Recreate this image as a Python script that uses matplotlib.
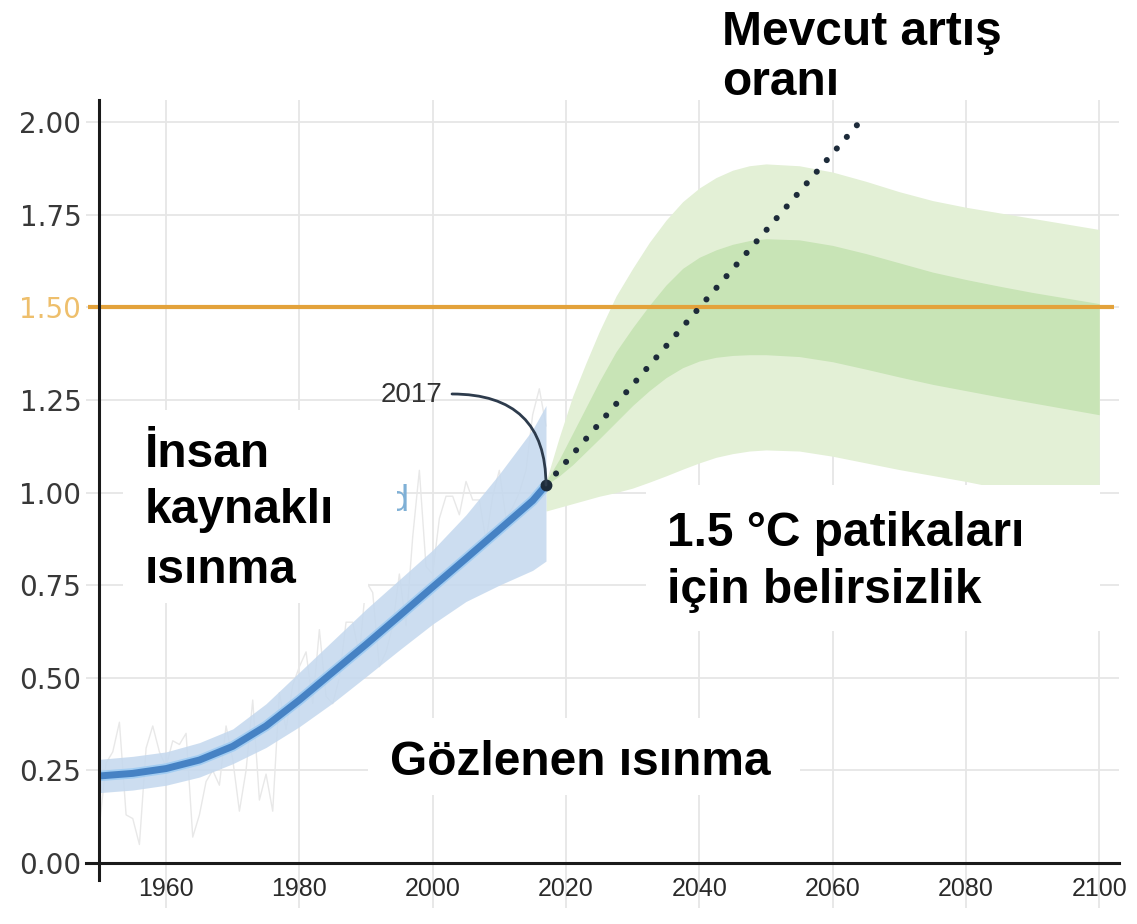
import matplotlib
matplotlib.use("Agg")
import matplotlib.pyplot as plt
from matplotlib.patches import Rectangle

# ---------------- data ----------------
hist_years = [1950, 1955, 1960, 1965, 1970, 1975, 1980, 1985, 1990, 1995, 2000, 2005, 2010, 2015, 2017]
human_warming = [0.235, 0.242, 0.255, 0.278, 0.315, 0.37, 0.44, 0.515, 0.59, 0.667, 0.745, 0.822, 0.90, 0.978, 1.02]
human_high = [0.28, 0.288, 0.30, 0.325, 0.362, 0.43, 0.515, 0.60, 0.685, 0.765, 0.845, 0.94, 1.05, 1.17, 1.235]
human_low = [0.19, 0.197, 0.21, 0.232, 0.268, 0.312, 0.368, 0.432, 0.503, 0.575, 0.645, 0.706, 0.75, 0.79, 0.815]

obs_years = list(range(1950, 2018))
obs_warming = [0.10, 0.27, 0.30, 0.38, 0.13, 0.12, 0.05, 0.31, 0.37, 0.30,
               0.26, 0.33, 0.32, 0.35, 0.07, 0.13, 0.22, 0.25, 0.21, 0.37,
               0.28, 0.14, 0.25, 0.44, 0.17, 0.24, 0.14, 0.46, 0.36, 0.48,
               0.53, 0.57, 0.43, 0.63, 0.45, 0.43, 0.50, 0.65, 0.65, 0.56,
               0.76, 0.73, 0.53, 0.57, 0.64, 0.78, 0.64, 0.88, 1.06, 0.80,
               0.78, 0.93, 0.99, 0.99, 0.94, 1.03, 0.98, 0.98, 0.87, 0.99,
               1.06, 0.93, 0.96, 1.00, 1.06, 1.21, 1.28, 1.18]

path_years = [2017, 2019, 2021, 2023, 2025, 2027.5, 2030, 2032.5, 2035, 2037.5,
              2040, 2042.5, 2045, 2047.5, 2050, 2055, 2060, 2065, 2070, 2075,
              2080, 2085, 2090, 2095, 2100]
outer_high = [1.03, 1.15, 1.26, 1.35, 1.435, 1.53, 1.605, 1.675, 1.735, 1.785,
              1.822, 1.85, 1.87, 1.882, 1.887, 1.882, 1.865, 1.84, 1.812, 1.788,
              1.77, 1.755, 1.74, 1.725, 1.71]
inner_high = [1.03, 1.09, 1.16, 1.23, 1.30, 1.38, 1.445, 1.505, 1.56, 1.605,
              1.635, 1.655, 1.67, 1.68, 1.685, 1.682, 1.667, 1.645, 1.62, 1.595,
              1.575, 1.557, 1.54, 1.525, 1.51]
inner_low = [1.02, 1.045, 1.075, 1.11, 1.145, 1.19, 1.235, 1.275, 1.31, 1.337,
             1.355, 1.365, 1.37, 1.372, 1.372, 1.367, 1.353, 1.333, 1.312, 1.292,
             1.275, 1.258, 1.242, 1.226, 1.21]
outer_low = [0.95, 0.96, 0.97, 0.98, 0.99, 1.0, 1.012, 1.028, 1.045, 1.063,
             1.08, 1.095, 1.105, 1.112, 1.115, 1.112, 1.098, 1.08, 1.062, 1.046,
             1.03, 1.012, 0.996, 0.98, 0.965]

rate_years = [2017, 2064.3]
rate_values = [1.02, 2.005]

threshold = 1.5
y_ticks = [0.0, 0.25, 0.5, 0.75, 1.0, 1.25, 1.5, 1.75, 2.0]
y_labels = ["0.00", "0.25", "0.50", "0.75", "1.00", "1.25", "1.50", "1.75", "2.00"]
x_ticks = [1960, 1980, 2000, 2020, 2040, 2060, 2080, 2100]
x_labels = ["1960", "1980", "2000", "2020", "2040", "2060", "2080", "2100"]

# ---------------- figure ----------------
W, H = 1137, 924
fig = plt.figure(figsize=(W / 100, H / 100), dpi=100)
ax = fig.add_axes([86.1 / W, (H - 907.5) / H, 1033.1 / W, 807.7 / H])
ax.set_xlim(1948, 2103)
ax.set_ylim(-0.12, 2.06)

BOLD = dict(family=["Liberation Sans", "DejaVu Sans"], fontweight="bold",
            fontsize=34.5, color="black")

# grid
ax.set_xticks(x_ticks)
ax.set_yticks(y_ticks)
ax.grid(True, color="#e6e6e6", lw=1.3, zorder=0)
ax.set_axisbelow(True)

# spines
for s in ("top", "right"):
    ax.spines[s].set_visible(False)
ax.spines["left"].set_position(("data", 1950))
ax.spines["left"].set_bounds(-0.045, 2.06)
ax.spines["bottom"].set_position(("data", 0))
for s in ("left", "bottom"):
    ax.spines[s].set_linewidth(2.2)
    ax.spines[s].set_color("#1a1a1a")
    ax.spines[s].set_zorder(8)

ax.tick_params(axis="both", length=0)
ax.tick_params(axis="y", pad=13)
ax.tick_params(axis="x", pad=10)
ax.set_yticklabels(y_labels, fontsize=20, color="#383838",
                   family=["DejaVu Sans"])
ax.set_xticklabels(x_labels, fontsize=18, color="#2a2a2a",
                   family=["Liberation Sans Narrow", "Liberation Sans", "DejaVu Sans"])
for lab, v in zip(ax.get_yticklabels(), y_ticks):
    if v == threshold:
        lab.set_color("#eebf6c")

# observed warming (faint)
ax.plot(obs_years, obs_warming, color="#e8e8e8", lw=1.0, zorder=1)

# pathway plumes
ax.fill_between(path_years, outer_low, outer_high, color="#e3f0d6", lw=0, zorder=2)
ax.fill_between(path_years, inner_low, inner_high, color="#c8e4b6", lw=0, zorder=3)

# human-induced warming
ax.fill_between(hist_years, human_low, human_high, color="#c4d8ee", alpha=0.85, lw=0, zorder=3)
ax.plot(hist_years, human_warming, color="#a3cdf2", lw=7.5, solid_capstyle="butt",
        solid_joinstyle="round", zorder=4)
ax.plot(hist_years, human_warming, color="#4682c4", lw=5, solid_capstyle="butt",
        solid_joinstyle="round", zorder=4)

# 1.5 threshold
ax.hlines(threshold, 1948.3, 2102.2, color="#e3a23b", lw=3, zorder=5)

# current rate dotted line
ax.plot(rate_years, rate_values, color="#1d2b3a", lw=4.4,
        linestyle=(0, (0.01, 2.5)), dash_capstyle="round", zorder=6)
ax.plot(hist_years[-1], human_warming[-1], "o", ms=7.5, color="#1d2b3a", zorder=7)

# 2017 label with curved connector
ax.text(2001.5, 1.263, "2017", ha="right", va="center", fontsize=20, color="#333333",
        family=["Liberation Sans", "DejaVu Sans"], zorder=7)
ax.annotate("", xy=(hist_years[-1], human_warming[-1]), xytext=(2002.9, 1.266),
            arrowprops=dict(arrowstyle="-", color="#2d3b4c", lw=2,
                            connectionstyle="angle3,angleA=0,angleB=90",
                            shrinkA=0, shrinkB=0), zorder=7)

# remnant "d" of a label behind the white box
ax.text(1996.3, 0.95, "d", ha="right", va="baseline", fontsize=26, color="#7fb0d6",
        family=["Liberation Sans", "DejaVu Sans"], zorder=7)

# white boxes
def box(x0, x1, y0, y1):
    ax.add_patch(Rectangle((x0, y0), x1 - x0, y1 - y0, facecolor="white",
                           edgecolor="none", zorder=10, clip_on=False))

box(1953.5, 1994.6, 0.796, 1.223)
box(1953.5, 1990.3, 0.702, 1.223)
box(1990.3, 2055.1, 0.1835, 0.391)
box(2032.0, 2100.1, 0.626, 1.020)

# annotation texts
ax.text(1956.8, 1.069, "İnsan", ha="left", va="baseline", zorder=11, **BOLD)
ax.text(1956.8, 0.918, "kaynaklı", ha="left", va="baseline", zorder=11, **BOLD)
ax.text(1956.8, 0.756, "ısınma", ha="left", va="baseline", zorder=11, **BOLD)
ax.text(1993.6, 0.2375, "Gözlenen ısınma", ha="left", va="baseline", zorder=11, **BOLD)
ax.text(2035.15, 0.8556, "1.5 °C patikaları", ha="left", va="baseline", zorder=11, **BOLD)
ax.text(2035.15, 0.7018, "için belirsizlik", ha="left", va="baseline", zorder=11, **BOLD)
ax.text(2043.4, 2.207, "Mevcut artış", ha="left", va="baseline", zorder=11, **BOLD)
ax.text(2043.4, 2.073, "oranı", ha="left", va="baseline", zorder=11, **BOLD)

fig.savefig("out.png", dpi=100, facecolor="white")
